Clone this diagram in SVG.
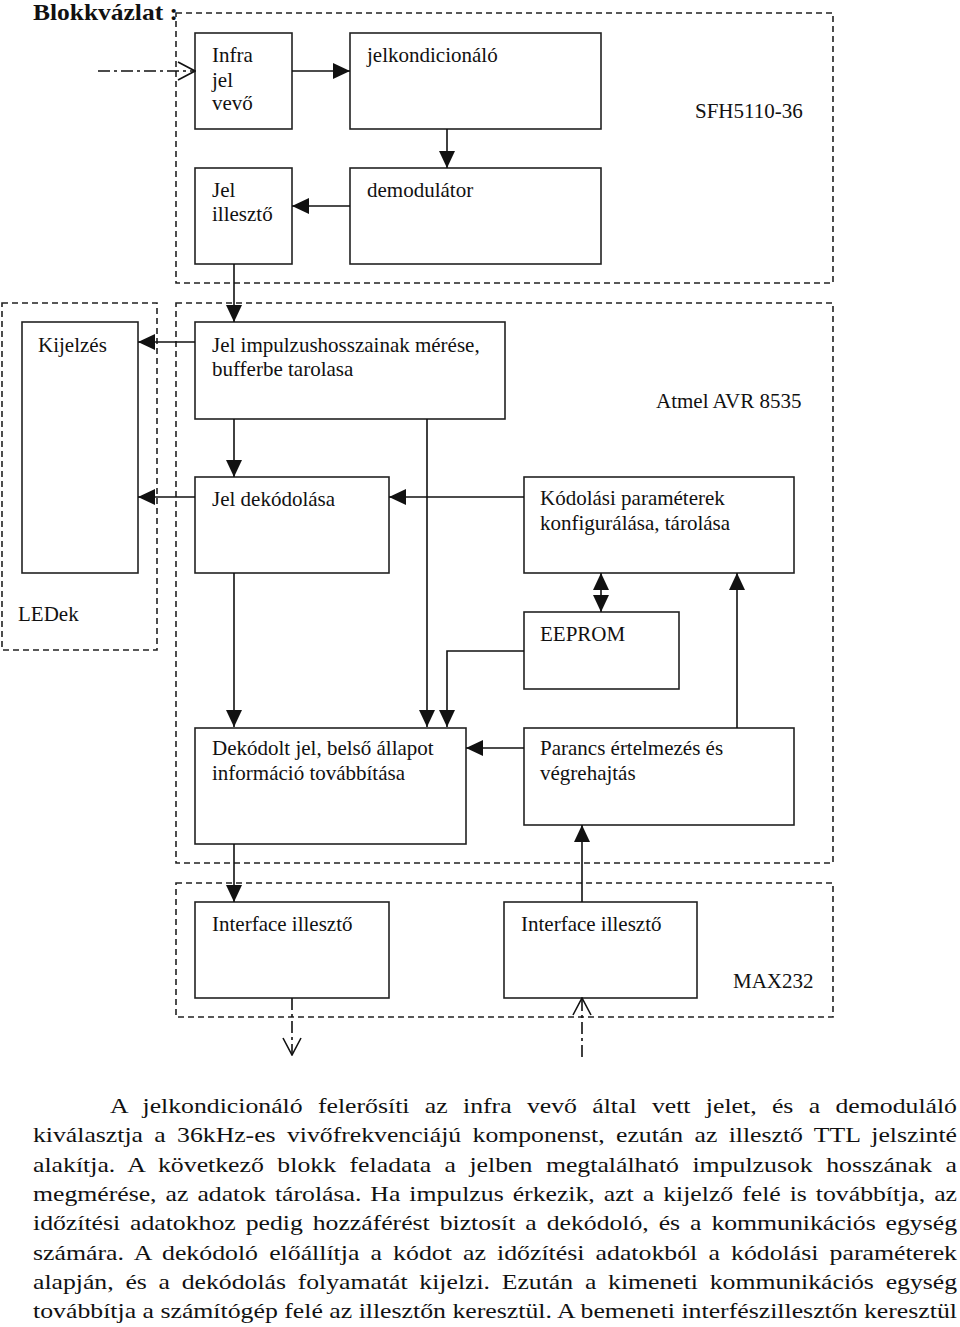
<svg xmlns="http://www.w3.org/2000/svg" width="960" height="1327" viewBox="0 0 960 1327">
<style>
text{font-family:"Liberation Serif","Times New Roman",serif;fill:#111}
.t{font-size:21px}
.title{font-size:24px;font-weight:bold}
.p{font-size:22px}
.box{fill:#fff;stroke:#222;stroke-width:1.6}
.grp{fill:none;stroke:#222;stroke-width:1.6;stroke-dasharray:6 4}
.c{fill:none;stroke:#111;stroke-width:1.6}
.a{marker-end:url(#ah)}
.dd{fill:none;stroke:#111;stroke-width:1.6;stroke-dasharray:12 4 3 4;marker-end:url(#oh)}
</style>
<defs>
<marker id="ah" viewBox="0 0 17 16" refX="17" refY="8" markerWidth="17" markerHeight="16" markerUnits="userSpaceOnUse" orient="auto-start-reverse">
<path d="M0,0 L17,8 L0,16 z" fill="#111"/>
</marker>
<marker id="oh" viewBox="-1 -1 19 20" refX="17" refY="9" markerWidth="19" markerHeight="20" markerUnits="userSpaceOnUse" orient="auto">
<path d="M0,0 L17,9 L0,18" fill="none" stroke="#111" stroke-width="1.6"/>
</marker>
</defs>
<rect width="960" height="1327" fill="#fff"/>
<text class="title" x="33" y="20" textLength="145" lengthAdjust="spacingAndGlyphs">Blokkvázlat :</text>

<g id="groups">
<rect id="sfh" class="grp" x="176" y="13" width="657" height="270"/>
<rect id="ledek" class="grp" x="2" y="303" width="155" height="347"/>
<rect id="atmel" class="grp" x="176" y="303" width="657" height="560"/>
<rect id="max232" class="grp" x="176" y="883" width="657" height="134"/>
<text class="t" x="695" y="118">SFH5110-36</text>
<text class="t" x="18" y="621">LEDek</text>
<text class="t" x="656" y="408">Atmel AVR 8535</text>
<text class="t" x="733" y="988">MAX232</text>
</g>

<g id="infra"><rect class="box" x="195" y="33" width="97" height="96"/>
<text class="t" x="212" y="62">Infra</text><text class="t" x="212" y="87">jel</text><text class="t" x="212" y="110">vevő</text></g>
<g id="jelkond"><rect class="box" x="350" y="33" width="251" height="96"/>
<text class="t" x="367" y="62">jelkondicionáló</text></g>
<g id="demod"><rect class="box" x="350" y="168" width="251" height="96"/>
<text class="t" x="367" y="197">demodulátor</text></g>
<g id="jelill"><rect class="box" x="195" y="168" width="97" height="96"/>
<text class="t" x="212" y="197">Jel</text><text class="t" x="212" y="221">illesztő</text></g>

<g id="kijelzes"><rect class="box" x="22" y="322" width="116" height="251"/>
<text class="t" x="38" y="352">Kijelzés</text></g>
<g id="impulzus"><rect class="box" x="195" y="322" width="310" height="97"/>
<text class="t" x="212" y="352">Jel impulzushosszainak mérése,</text><text class="t" x="212" y="376">bufferbe tarolasa</text></g>
<g id="dekod"><rect class="box" x="195" y="477" width="194" height="96"/>
<text class="t" x="212" y="506">Jel dekódolása</text></g>
<g id="kodolasi"><rect class="box" x="524" y="477" width="270" height="96"/>
<text class="t" x="540" y="505">Kódolási paraméterek</text><text class="t" x="540" y="530">konfigurálása, tárolása</text></g>
<g id="eeprom"><rect class="box" x="524" y="612" width="155" height="77"/>
<text class="t" x="540" y="641">EEPROM</text></g>
<g id="dekodolt"><rect class="box" x="195" y="728" width="271" height="116"/>
<text class="t" x="212" y="755">Dekódolt jel, belső állapot</text><text class="t" x="212" y="780">információ továbbítása</text></g>
<g id="parancs"><rect class="box" x="524" y="728" width="270" height="97"/>
<text class="t" x="540" y="755">Parancs értelmezés és</text><text class="t" x="540" y="780">végrehajtás</text></g>
<g id="iface1"><rect class="box" x="195" y="902" width="194" height="96"/>
<text class="t" x="212" y="931">Interface illesztő</text></g>
<g id="iface2"><rect class="box" x="504" y="902" width="193" height="96"/>
<text class="t" x="521" y="931">Interface illesztő</text></g>

<g id="connectors">
<path class="dd" d="M98,71 H195"/>
<path class="c a" d="M292,71 H350"/>
<path class="c a" d="M447,129 V168"/>
<path class="c a" d="M350,206 H292"/>
<path class="c a" d="M234,264 V322"/>
<path class="c a" d="M195,342 H138"/>
<path class="c a" d="M195,497 H138"/>
<path class="c a" d="M234,419 V477"/>
<path class="c a" d="M427,419 V727"/>
<path class="c a" d="M524,497 H389"/>
<path class="c a" d="M234,573 V727"/>
<path class="c a" d="M524,651 H447 V727"/>
<path class="c a" d="M601,573 V612" marker-start="url(#ah)"/>
<path class="c a" d="M737,728 V573"/>
<path class="c a" d="M524,748 H466"/>
<path class="c a" d="M234,844 V902"/>
<path class="c a" d="M582,902 V825"/>
<path class="dd" d="M292,998 V1055"/>
<path class="dd" d="M582,1057 V998"/>
</g>

<g id="paragraph" class="p">
<text x="110" y="1113" word-spacing="7.6" textLength="847" lengthAdjust="spacingAndGlyphs">A jelkondicionáló felerősíti az infra vevő által vett jelet, és a demoduláló</text>
<text x="33" y="1142" word-spacing="4.2" textLength="924" lengthAdjust="spacingAndGlyphs">kiválasztja a 36kHz-es vivőfrekvenciájú komponenst, ezután az illesztő TTL jelszinté</text>
<text x="33" y="1172" word-spacing="6" textLength="924" lengthAdjust="spacingAndGlyphs">alakítja. A következő blokk feladata a jelben megtalálható impulzusok hosszának a</text>
<text x="33" y="1201" word-spacing="2.2" textLength="924" lengthAdjust="spacingAndGlyphs">megmérése, az adatok tárolása. Ha impulzus érkezik, azt a kijelző felé is továbbítja, az</text>
<text x="33" y="1230" word-spacing="3" textLength="924" lengthAdjust="spacingAndGlyphs">időzítési adatokhoz pedig hozzáférést biztosít a dekódoló, és a kommunikációs egység</text>
<text x="33" y="1260" word-spacing="4" textLength="924" lengthAdjust="spacingAndGlyphs">számára. A dekódoló előállítja a kódot az időzítési adatokból a kódolási paraméterek</text>
<text x="33" y="1289" word-spacing="4.6" textLength="924" lengthAdjust="spacingAndGlyphs">alapján, és a dekódolás folyamatát kijelzi. Ezután a kimeneti kommunikációs egység</text>
<text x="33" y="1318" textLength="924" lengthAdjust="spacingAndGlyphs">továbbítja a számítógép felé az illesztőn keresztül. A bemeneti interfészillesztőn keresztül</text>
</g>
</svg>
